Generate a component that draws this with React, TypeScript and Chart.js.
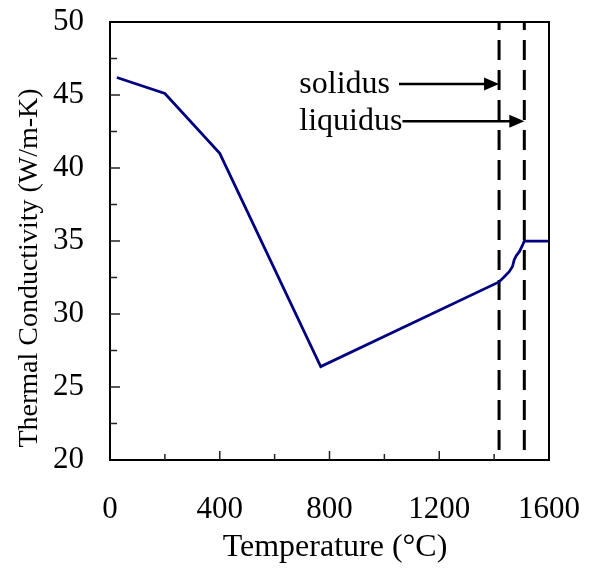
import React, { useEffect, useRef } from "react";
import { Chart, registerables } from "chart.js";

Chart.register(...registerables);

// ---- data ----
const temperatures = [25, 200, 400, 768, 1418, 1437, 1455, 1467, 1473, 1480, 1492, 1504, 1510, 1600];
const conductivity = [46.2, 45.1, 41.0, 26.4, 32.2, 32.55, 32.9, 33.25, 33.7, 33.97, 34.27, 34.73, 35.0, 35.0];

const solidusT = 1418;
const liquidusT = 1510;

const annotationLabels = ["solidus", "liquidus"];
const annotationTargets = [solidusT, liquidusT];
const annotationArrowY = [45.75, 43.2];
const annotationTextX = 690;

const xMin = 0;
const xMax = 1600;
const xStep = 400;
const yMin = 20;
const yMax = 50;
const yStep = 5;
const xTickMarks = [200, 400, 600, 800, 1000, 1200, 1400];
const yTickMarks = [22.5, 25, 27.5, 30, 32.5, 35, 37.5, 40, 42.5, 45, 47.5];

const xTitle = "Temperature (°C)";
const yTitle = "Thermal Conductivity (W/m-K)";

const FONT = "'Liberation Serif', 'Times New Roman', serif";
const TICK_FS = 31;
const XTITLE_FS = 32;
const YTITLE_FS = 28;
const NOTE_FS = 32;

const decorPlugin = {
  id: "decor",
  afterDraw(chart: any) {
    const { ctx, chartArea: a, scales } = chart;
    const x = scales.x;
    const y = scales.y;
    ctx.save();
    // frame
    ctx.strokeStyle = "#000";
    ctx.lineWidth = 2;
    ctx.strokeRect(a.left, a.top, a.right - a.left, a.bottom - a.top);
    // inside ticks
    ctx.lineWidth = 1.5;
    ctx.strokeStyle = "#222";
    xTickMarks.forEach((v) => {
      const px = x.getPixelForValue(v);
      const len = v % 400 === 0 ? 9 : 6;
      ctx.beginPath();
      ctx.moveTo(px, a.bottom);
      ctx.lineTo(px, a.bottom - len);
      ctx.stroke();
    });
    yTickMarks.forEach((v) => {
      const py = y.getPixelForValue(v);
      const len = v % 5 === 0 ? 10 : 7;
      ctx.beginPath();
      ctx.moveTo(a.left, py);
      ctx.lineTo(a.left + len, py);
      ctx.stroke();
    });
    // annotations
    ctx.fillStyle = "#000";
    ctx.strokeStyle = "#000";
    ctx.font = `${NOTE_FS}px ${FONT}`;
    ctx.textBaseline = "alphabetic";
    ctx.textAlign = "left";
    annotationLabels.forEach((label, i) => {
      const tx = x.getPixelForValue(annotationTextX);
      const ay = y.getPixelForValue(annotationArrowY[i]);
      ctx.fillText(label, tx, ay + 9);
      const w = ctx.measureText(label).width;
      const startX = tx + w + (i === 0 ? 9 : 0);
      const endX = x.getPixelForValue(annotationTargets[i]);
      const headLen = 15;
      ctx.lineWidth = 2.5;
      ctx.beginPath();
      ctx.moveTo(startX, ay);
      ctx.lineTo(endX - headLen + 1, ay);
      ctx.stroke();
      ctx.beginPath();
      ctx.moveTo(endX, ay);
      ctx.lineTo(endX - headLen, ay - 6.5);
      ctx.lineTo(endX - headLen, ay + 6.5);
      ctx.closePath();
      ctx.fill();
    });
    // axis titles
    ctx.textAlign = "center";
    ctx.font = `${XTITLE_FS}px ${FONT}`;
    ctx.fillText(xTitle, 335, 556);
    ctx.font = `${YTITLE_FS}px ${FONT}`;
    ctx.translate(37, 268);
    ctx.rotate(-Math.PI / 2);
    ctx.fillText(yTitle, 0, 0);
    ctx.restore();
  },
};

export default function App() {
  const ref = useRef<HTMLCanvasElement>(null);
  useEffect(() => {
    document.body.style.margin = "0";
    const canvas = ref.current;
    if (!canvas) return;
    const vline = (t: number) => [
      { x: t, y: yMin },
      { x: t, y: yMax },
    ];
    const chart = new Chart(canvas, {
      type: "line",
      data: {
        datasets: [
          {
            data: temperatures.map((t, i) => ({ x: t, y: conductivity[i] })),
            borderColor: "#000080",
            borderWidth: 2.75,
            pointRadius: 0,
            tension: 0,
            fill: false,
          },
          {
            data: vline(solidusT),
            borderColor: "#000",
            borderWidth: 3,
            borderDash: [20, 10],
            borderDashOffset: 20,
            pointRadius: 0,
            fill: false,
          },
          {
            data: vline(liquidusT),
            borderColor: "#000",
            borderWidth: 3,
            borderDash: [20, 10],
            borderDashOffset: 20,
            pointRadius: 0,
            fill: false,
          },
        ],
      },
      options: {
        responsive: false,
        animation: false,
        devicePixelRatio: 1,
        layout: { padding: { left: 0, right: 49, top: 22, bottom: 0 } },
        plugins: { legend: { display: false }, tooltip: { enabled: false } },
        scales: {
          x: {
            type: "linear",
            min: xMin,
            max: xMax,
            grid: { display: false, drawTicks: false },
            border: { display: false },
            ticks: {
              stepSize: xStep,
              padding: 31,
              color: "#000",
              font: { family: FONT, size: TICK_FS },
              maxRotation: 0,
              callback: (v: any) => String(v),
            },
            afterFit: (s: any) => {
              s.height = 575 - 460;
              s.paddingLeft = 0;
              s.paddingRight = 0;
            },
          },
          y: {
            type: "linear",
            min: yMin,
            max: yMax,
            grid: { display: false, drawTicks: false },
            border: { display: false },
            ticks: {
              stepSize: yStep,
              padding: 26,
              color: "#000",
              font: { family: FONT, size: TICK_FS },
              callback: (v: any) => String(v),
            },
            afterFit: (s: any) => {
              s.width = 110;
              s.paddingTop = 0;
              s.paddingBottom = 0;
            },
          },
        },
      },
      plugins: [decorPlugin],
    });
    return () => chart.destroy();
  }, []);
  return <canvas ref={ref} width={598} height={575} style={{ display: "block" }} />;
}
